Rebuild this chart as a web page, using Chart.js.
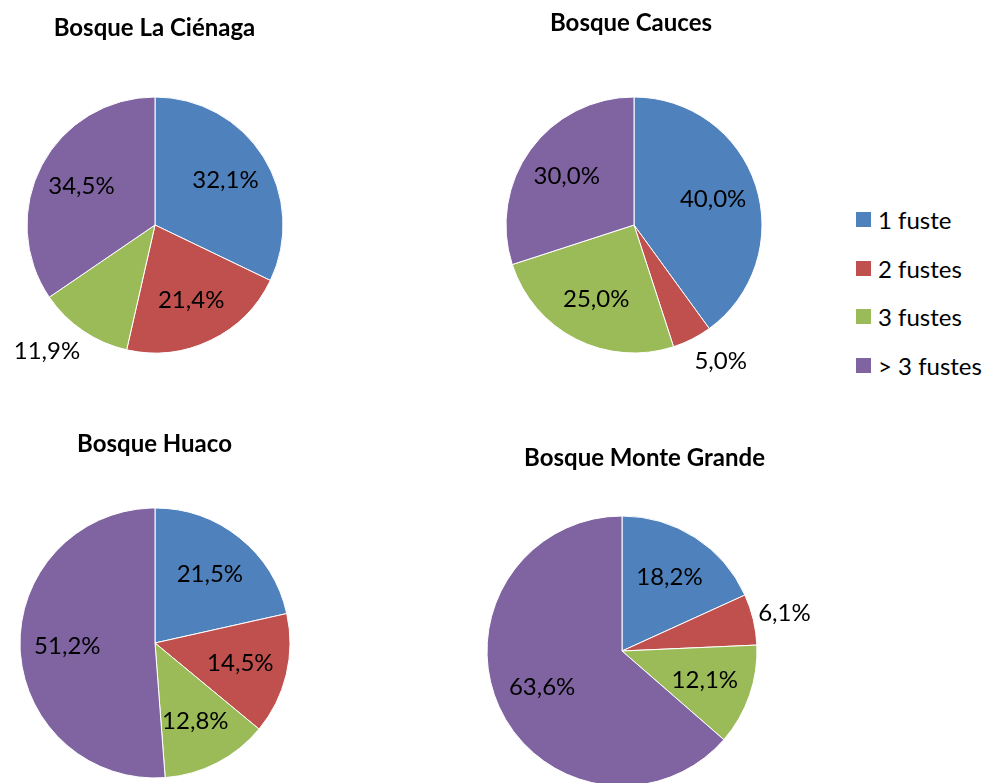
<!DOCTYPE html>
<html lang="es">
<head>
<meta charset="utf-8">
<script src="https://cdn.jsdelivr.net/npm/chart.js@4/dist/chart.umd.min.js"></script>
<style>
  html, body { margin: 0; padding: 0; background: #fff; }
  body { width: 987px; height: 783px; position: relative; overflow: hidden; font-family: Lato, 'Open Sans', sans-serif; }
  .caja { position: absolute; }
  .titulo { position: absolute; transform: translate(-50%, -50%); font-weight: bold; font-size: 24px; color: #000; white-space: nowrap; }
  #leyenda { position: absolute; left: 856px; top: 200px; font-size: 24px; color: #000; }
  .item { position: absolute; left: 0; height: 30px; white-space: nowrap; display: flex; align-items: center; transform: translateY(-50%); }
  .item i { display: inline-block; width: 15px; height: 15px; margin-right: 7px; }
</style>
</head>
<body>

<script>
/* ── Datos: % de individuos según número de fustes ─────────────── */
const categorias = ['1 fuste', '2 fustes', '3 fustes', '> 3 fustes'];
const colores    = ['#4F81BD', '#C0504D', '#9BBB59', '#8064A2'];

const bosques     = ['Bosque La Ciénaga', 'Bosque Cauces', 'Bosque Huaco', 'Bosque Monte Grande'];
const cienaga     = [32.1, 21.4, 11.9, 34.5];
const cauces      = [40.0, 5.0, 25.0, 30.0];
const huaco       = [21.5, 14.5, 12.8, 51.2];
const monteGrande = [18.2, 6.1, 12.1, 63.6];
const series      = [cienaga, cauces, huaco, monteGrande];

/* ── Disposición (centro y radio de cada torta, título, etiquetas fuera) ── */
const layout = [
  { cx: 154.5, cy: 224.5, r: 128, tx: 154.5, ty: 26,  fuera: [2] },
  { cx: 634,   cy: 225,   r: 128, tx: 631,   ty: 21,  fuera: [1] },
  { cx: 155,   cy: 643,   r: 135, tx: 154.5, ty: 442, fuera: [] },
  { cx: 622,   cy: 651,   r: 135, tx: 644.5, ty: 456, fuera: [1] },
];
const MARGEN = 80;
const FUENTE_ETIQ = '24px Lato, "Open Sans", sans-serif';

/* Plugin: etiquetas de porcentaje sobre cada porción */
const etiquetasPct = {
  id: 'etiquetasPct',
  afterDatasetsDraw(chart, args, opts) {
    const ctx = chart.ctx;
    const meta = chart.getDatasetMeta(0);
    const valores = chart.data.datasets[0].data;
    ctx.save();
    ctx.font = FUENTE_ETIQ;
    ctx.fillStyle = '#000';
    ctx.textAlign = 'center';
    ctx.textBaseline = 'middle';
    meta.data.forEach((arc, i) => {
      const { x, y, startAngle, endAngle, outerRadius } = arc.getProps(['x', 'y', 'startAngle', 'endAngle', 'outerRadius'], true);
      const medio = (startAngle + endAngle) / 2;
      const dx = Math.cos(medio), dy = Math.sin(medio);
      const texto = valores[i].toFixed(1).replace('.', ',') + '%';
      let px, py;
      if (opts.fuera.includes(i)) {
        // fuera del círculo: la caja del texto toca el borde
        const hw = ctx.measureText(texto).width / 2, hh = 10;
        px = x + dx * (outerRadius + 5) + Math.sign(dx) * hw;
        py = y + dy * (outerRadius + 5) + dy * 2 * hh;
      } else {
        px = x + dx * outerRadius * 0.65;
        py = y + dy * outerRadius * 0.65;
      }
      ctx.fillText(texto, px, py);
    });
    ctx.restore();
  }
};

/* ── Construcción de las cuatro tortas ─────────────────────────── */
bosques.forEach((nombre, k) => {
  const L = layout[k];
  const lado = 2 * (L.r + MARGEN);

  const caja = document.createElement('div');
  caja.className = 'caja';
  caja.style.left = (L.cx - lado / 2) + 'px';
  caja.style.top = (L.cy - lado / 2) + 'px';
  caja.style.width = lado + 'px';
  caja.style.height = lado + 'px';
  const canvas = document.createElement('canvas');
  caja.appendChild(canvas);
  document.body.appendChild(caja);

  const t = document.createElement('div');
  t.className = 'titulo';
  t.textContent = nombre;
  t.style.left = L.tx + 'px';
  t.style.top = L.ty + 'px';
  document.body.appendChild(t);

  new Chart(canvas, {
    type: 'pie',
    data: {
      labels: categorias,
      datasets: [{
        data: series[k],
        backgroundColor: colores,
        borderColor: '#ffffff',
        borderWidth: 1,
      }]
    },
    options: {
      responsive: true,
      maintainAspectRatio: false,
      animation: false,
      radius: L.r,
      layout: { padding: 0 },
      plugins: {
        legend: { display: false },
        tooltip: { enabled: false },
        title: { display: false },
        etiquetasPct: { fuera: L.fuera },
      }
    },
    plugins: [etiquetasPct]
  });
});

/* ── Leyenda común ─────────────────────────────────────────────── */
const leyenda = document.createElement('div');
leyenda.id = 'leyenda';
categorias.forEach((cat, i) => {
  const it = document.createElement('div');
  it.className = 'item';
  it.style.top = (19.5 + i * 48.5) + 'px';
  it.innerHTML = `<i style="background:${colores[i]}"></i><span>${cat}</span>`;
  leyenda.appendChild(it);
});
document.body.appendChild(leyenda);
</script>
</body>
</html>
